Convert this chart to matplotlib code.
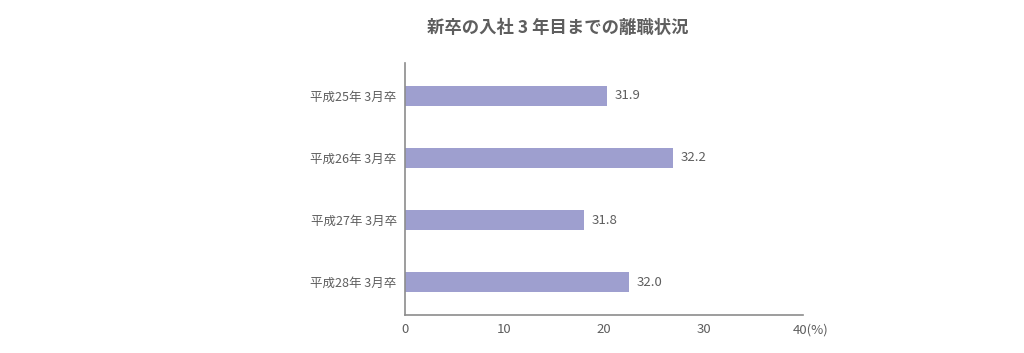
import matplotlib
matplotlib.use("Agg")
import matplotlib.pyplot as plt
from matplotlib.transforms import ScaledTranslation

plt.rcParams['font.family'] = ['Noto Sans CJK JP', 'DejaVu Sans']

# data (bar lengths as drawn, labels as printed)
categories = ['平成25年 3月卒', '平成26年 3月卒', '平成27年 3月卒', '平成28年 3月卒']
bar_values = [20.3, 26.9, 18.0, 22.5]
bar_labels = ['31.9', '32.2', '31.8', '32.0']
xticks = [0, 10, 20, 30, 40]
xtick_labels = ['0', '10', '20', '30', '40(%)']

text_color = '#5e5e5e'
bar_color = '#9e9fcf'
axis_color = '#8c8c8c'

fig = plt.figure(figsize=(10.24, 3.53), dpi=100)
ax = fig.add_axes([0.3955, 0.1076, 0.3887, 0.714])

ypos = list(range(len(categories)))
ax.barh(ypos, bar_values, height=0.32, color=bar_color)

for y, v, lab in zip(ypos, bar_values, bar_labels):
    ax.text(v + 0.8, y, lab, va='center', ha='left', fontsize=9.5, color=text_color)

ax.set_xlim(0, 40)
ax.set_ylim(len(categories) - 0.47, -0.53)
ax.set_yticks(ypos)
ax.set_yticklabels(categories, fontsize=9, color=text_color)
ax.set_xticks(xticks)
ax.set_xticklabels(xtick_labels, fontsize=9.5, color=text_color)
ax.tick_params(axis='both', length=0, pad=6)

# the "(%)" hangs off to the right of the 40 tick
last = ax.get_xticklabels()[-1]
last.set_transform(last.get_transform() + ScaledTranslation(8 / 100, 0, fig.dpi_scale_trans))

for s in ['top', 'right']:
    ax.spines[s].set_visible(False)
for s in ['left', 'bottom']:
    ax.spines[s].set_color(axis_color)
    ax.spines[s].set_linewidth(1.2)

fig.text(0.545, 0.921, '新卒の入社 3 年目までの離職状況', ha='center', va='center',
         fontsize=12.5, fontweight='bold', color=text_color)

fig.savefig('out.png', dpi=100, facecolor='white')
